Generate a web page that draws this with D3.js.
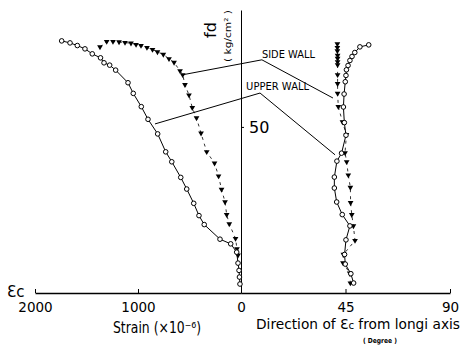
<!DOCTYPE html>
<html>
<head>
<meta charset="utf-8">
<script src="https://cdn.jsdelivr.net/npm/d3@7"></script>
<style>
body { margin: 0; background: #fff; }
svg { display: block; font-family: "DejaVu Sans", sans-serif; }
</style>
</head>
<body>
<svg id="graph" width="463" height="352"></svg>
<script>
// upper wall, principal compressive strain
var upperStrain = [1741, 1660, 1589, 1515, 1444, 1364, 1330, 1275, 1217, 1097, 1046, 968, 903, 809, 731, 672, 585, 527, 459, 408, 357, 204, 100, 42, 29, 19, 15, 10];
var upperStrainFd = [75.9, 75.3, 74.5, 73.5, 72.0, 70.8, 69.3, 68.6, 67.1, 63.3, 60.1, 56.1, 52.3, 47.9, 42.5, 39.5, 34.8, 31.3, 27.0, 23.3, 20.6, 16.2, 14.8, 12.3, 9.0, 6.8, 4.8, 2.7];

// side wall, principal compressive strain
var sideStrain = [1369, 1304, 1243, 1184, 1126, 1068, 1019, 971, 913, 859, 811, 754, 699, 650, 592, 566, 544, 505, 473, 432, 388, 333, 257, 218, 189, 155, 139, 114, 53, 39, 29];
var sideStrainFd = [74.1, 75.7, 75.7, 75.6, 75.4, 75.2, 74.8, 74.5, 73.9, 73.3, 72.6, 71.8, 70.5, 69.4, 66.9, 65.7, 62.7, 59.6, 55.8, 52.7, 48.1, 42.5, 39.1, 35.2, 31.2, 27.4, 23.6, 20.8, 16.4, 13.3, 11.4];

// direction of Ec (degree)
var upperAngle = [55.0, 51.2, 49.0, 47.8, 46.9, 46.1, 45.4, 45.2, 44.9, 44.4, 44.1, 44.5, 45.2, 43.3, 41.3, 40.2, 40.2, 41.2, 43.6, 46.9, 45.2, 44.6, 44.9, 47.3, 48.5];
var upperAngleFd = [74.7, 74.1, 72.4, 71.2, 70.0, 68.5, 67.2, 65.5, 63.6, 59.9, 56.0, 51.3, 47.5, 42.1, 39.7, 34.9, 31.6, 27.4, 23.6, 20.2, 16.0, 11.6, 8.7, 5.8, 3.0];
var sideAngle = [41.5, 41.5, 41.5, 41.6, 41.6, 41.6, 41.6, 41.6, 41.6, 41.6, 41.9, 43.7, 45.4, 44.8, 45.5, 46.2, 47.1, 47.2, 47.7, 48.4, 49.1, 44.1, 43.9, 46.8, 47.1];
var sideAngleFd = [75.0, 73.9, 72.9, 71.5, 70.6, 69.6, 68.7, 65.7, 63.0, 60.1, 56.1, 51.5, 47.7, 42.2, 39.5, 35.5, 31.8, 27.2, 23.6, 20.2, 15.8, 11.6, 9.1, 6.0, 3.0];

var strainTicks = [2000, 1000];
var angleTicks = [0, 45, 90];
var fdTicks = [50];

// leader lines of the two labels: [scale, value, fd]
var sideLeader = [["s", 566, 65.7], ["a", 9.0, 70.2], ["a", 39.6, 58.7]];
var upperLeader = [["s", 835, 50.9], ["a", 8.2, 60.2], ["a", 40.5, 41.6]];

var graph = d3.select("#graph");

var xs = d3.scaleLinear().domain([0, 2000]).range([241, 35]);
var xa = d3.scaleLinear().domain([0, 90]).range([241, 450]);
var y = d3.scaleLinear().domain([0, 85.2]).range([293, 10]);

function zip(a, b) {
	var list = [];
	for (var i = 0; i < a.length; i++) {
		list.push([a[i], b[i]]);
	}
	return list;
}

function ptX(d) {
	return d[0] == "s" ? xs(d[1]) : xa(d[1]);
}

// axes
var axis = d3.axisBottom(xs).tickValues(strainTicks).tickFormat(d3.format("d"))
	.tickSizeInner(-4).tickSizeOuter(0).tickPadding(9);
graph.append("g").attr("class", "xaxis").attr("transform", "translate(0,293)").call(axis);
axis = d3.axisBottom(xa).tickValues(angleTicks).tickFormat(d3.format("d"))
	.tickSizeInner(-4).tickSizeOuter(0).tickPadding(9);
graph.append("g").attr("class", "xaxis").attr("transform", "translate(0,293)").call(axis);
graph.selectAll(".xaxis text").attr("font-size", 13.5).attr("font-family", "DejaVu Sans");
graph.selectAll(".xaxis path").attr("stroke-width", 1.5);

axis = d3.axisRight(y).tickValues(fdTicks).tickSizeInner(3).tickSizeOuter(0).tickPadding(5);
var yg = graph.append("g").attr("transform", "translate(241,0)").call(axis);
yg.selectAll("text").attr("font-size", 16).attr("font-family", "DejaVu Sans");

// lines
var line = d3.line();
graph.append("path")
	.attr("d", line(zip(upperStrain, upperStrainFd).map(function(d) { return [xs(d[0]), y(d[1])]; })))
	.attr("stroke", "black").attr("stroke-width", 1).attr("fill", "none");
graph.append("path")
	.attr("d", line(zip(sideStrain, sideStrainFd).map(function(d) { return [xs(d[0]), y(d[1])]; })))
	.attr("stroke", "black").attr("stroke-width", 0.8).attr("stroke-dasharray", "3,4").attr("fill", "none");
graph.append("path")
	.attr("d", line(zip(upperAngle, upperAngleFd).map(function(d) { return [xa(d[0]), y(d[1])]; })))
	.attr("stroke", "black").attr("stroke-width", 1).attr("fill", "none");
graph.append("path")
	.attr("d", line(zip(sideAngle, sideAngleFd).map(function(d) { return [xa(d[0]), y(d[1])]; })))
	.attr("stroke", "black").attr("stroke-width", 0.8).attr("stroke-dasharray", "3,4").attr("fill", "none");

// leader lines
[sideLeader, upperLeader].forEach(function(l) {
	graph.append("path")
		.attr("d", line(l.map(function(d) { return [ptX(d), y(d[2])]; })))
		.attr("stroke", "black").attr("stroke-width", 1).attr("fill", "none");
});

// marks
var tri = d3.symbol().type(d3.symbolTriangle).size(14);
function triangles(data, sx) {
	graph.append("g").selectAll("path").data(data).enter().append("path")
		.attr("d", tri)
		.attr("transform", function(d) { return "translate(" + sx(d[0]) + "," + y(d[1]) + ") rotate(180)"; })
		.attr("fill", "black");
}
function circles(data, sx) {
	graph.append("g").selectAll("circle").data(data).enter().append("circle")
		.attr("cx", function(d) { return sx(d[0]); })
		.attr("cy", function(d) { return y(d[1]); })
		.attr("r", 2.3)
		.attr("fill", "white").attr("stroke", "black").attr("stroke-width", 1);
}
triangles(zip(sideStrain, sideStrainFd), xs);
triangles(zip(sideAngle, sideAngleFd), xa);
circles(zip(upperStrain, upperStrainFd), xs);
circles(zip(upperAngle, upperAngleFd), xa);

// labels
graph.append("text").attr("x", xa(9.0)).attr("y", y(70.8)).attr("font-size", 10)
	.attr("textLength", 53).attr("lengthAdjust", "spacingAndGlyphs").text("SIDE WALL");
graph.append("text").attr("x", xa(2.2)).attr("y", y(61.1)).attr("font-size", 10)
	.attr("textLength", 63).attr("lengthAdjust", "spacingAndGlyphs").text("UPPER WALL");

graph.append("text").attr("transform", "translate(216,38) rotate(-90)").attr("font-size", 16).text("fd");
graph.append("text").attr("transform", "translate(231,62) rotate(-90)").attr("font-size", 9)
	.attr("textLength", 52).attr("lengthAdjust", "spacingAndGlyphs").text("( kg/cm² )");

graph.append("text").attr("x", 7).attr("y", 297).attr("font-size", 15).text("Ɛc");
graph.append("text").attr("x", 113).attr("y", 333).attr("font-size", 15)
	.attr("textLength", 88).attr("lengthAdjust", "spacingAndGlyphs").text("Strain (×10⁻⁶)");
var dt = graph.append("text").attr("x", 256).attr("y", 329).attr("font-size", 13.5)
	.attr("textLength", 204).attr("lengthAdjust", "spacingAndGlyphs");
dt.append("tspan").text("Direction of Ɛ");
dt.append("tspan").attr("font-size", 10).text("c");
dt.append("tspan").text(" from longi axis");
graph.append("text").attr("x", 363).attr("y", 343).attr("font-size", 7).attr("font-weight", "bold")
	.attr("textLength", 34).attr("lengthAdjust", "spacingAndGlyphs").text("( Degree )");
</script>
</body>
</html>
